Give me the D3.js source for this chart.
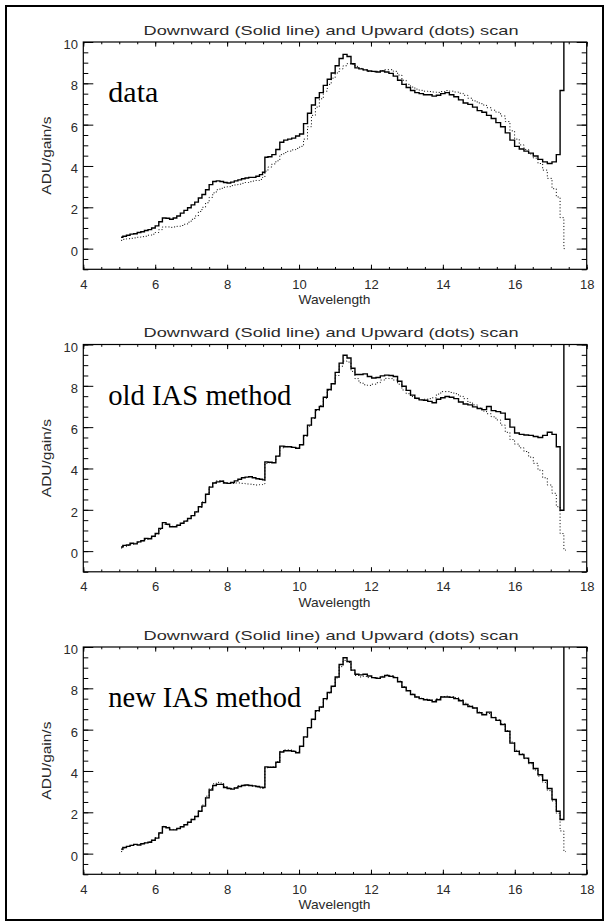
<!DOCTYPE html>
<html><head><meta charset="utf-8">
<script src="https://cdn.jsdelivr.net/npm/d3@7"></script>
<style>body{margin:0;background:#fff}</style>
</head><body><svg id="c" width="608" height="924"></svg>
<script>
const titleText = "Downward (Solid line) and Upward (dots) scan";
const xLabel = "Wavelength";
const yLabel = "ADU/gain/s";
const panelLabels = ["data", "old IAS method", "new IAS method"];
const xTicks = [4, 6, 8, 10, 12, 14, 16, 18];
const yTicks = [0, 2, 4, 6, 8, 10];

const wavelength = [
5.05,5.15,5.25,5.35,5.45,5.55,5.65,5.75,5.85,5.95,
6.05,6.15,6.25,6.35,6.45,6.55,6.65,6.75,6.85,6.95,
7.05,7.15,7.25,7.35,7.45,7.55,7.65,7.75,7.85,7.95,
8.05,8.15,8.25,8.35,8.45,8.55,8.65,8.75,8.85,8.95,
9.02,
9.08,9.19,9.30,9.41,9.52,9.63,9.74,9.85,9.96,10.07,
10.18,10.29,10.40,10.51,10.62,10.73,10.84,10.95,11.06,11.17,
11.28,11.39,11.50,11.61,11.72,11.84,11.96,12.08,12.20,12.32,
12.44,12.56,12.68,12.80,12.92,13.04,13.16,13.28,13.40,13.52,
13.64,13.76,13.88,14.00,14.12,14.24,14.37,14.50,14.63,14.76,
14.89,15.02,15.15,15.28,15.41,15.54,15.67,15.80,15.93,16.06,
16.19,16.32,16.45,16.58,16.71,16.84,16.97,17.10,17.21,17.31,
17.42];

const dataDown = [
0.55,0.60,0.65,0.70,0.72,0.78,0.82,0.88,0.92,1.00,
1.10,1.30,1.48,1.47,1.42,1.48,1.58,1.72,1.85,1.98,
2.12,2.25,2.45,2.62,2.85,3.10,3.25,3.28,3.25,3.20,
3.18,3.22,3.28,3.33,3.38,3.42,3.45,3.45,3.50,3.58,
3.70,
4.42,4.45,4.55,4.80,5.15,5.25,5.30,5.35,5.45,5.55,
6.05,6.55,6.95,7.30,7.55,7.90,8.20,8.50,8.85,9.20,
9.40,9.30,8.95,8.75,8.70,8.65,8.60,8.58,8.55,8.60,
8.55,8.48,8.35,8.15,7.95,7.80,7.65,7.55,7.50,7.45,
7.45,7.38,7.42,7.50,7.55,7.45,7.35,7.20,7.05,6.98,
6.85,6.68,6.60,6.45,6.30,6.10,5.90,5.60,5.25,4.95,
4.82,4.72,4.62,4.48,4.32,4.20,4.12,4.20,4.55,7.65,
12];

const dataUp = [
0.40,0.45,0.48,0.50,0.52,0.55,0.58,0.60,0.65,0.70,
0.78,0.92,1.05,1.05,1.03,1.05,1.08,1.12,1.18,1.28,
1.42,1.58,1.80,2.00,2.22,2.48,2.70,2.85,2.92,2.97,
3.00,3.05,3.08,3.12,3.16,3.20,3.24,3.27,3.30,3.35,
3.45,
3.75,3.95,4.10,4.25,4.55,4.65,4.72,4.78,4.85,4.95,
5.30,5.90,6.45,6.85,7.25,7.62,7.95,8.25,8.50,8.70,
8.85,8.95,8.92,8.82,8.72,8.65,8.58,8.56,8.58,8.62,
8.66,8.66,8.58,8.40,8.15,7.95,7.82,7.72,7.66,7.62,
7.60,7.58,7.56,7.60,7.65,7.62,7.58,7.52,7.42,7.28,
7.15,7.05,6.95,6.82,6.70,6.60,6.42,6.15,5.70,5.30,
5.02,4.80,4.58,4.38,4.12,3.80,3.40,2.90,2.50,1.50,
0.00];

const oldDown = [
0.20,0.28,0.30,0.38,0.35,0.45,0.50,0.62,0.60,0.72,
0.85,1.10,1.38,1.30,1.18,1.18,1.25,1.35,1.45,1.58,
1.72,1.90,2.15,2.35,2.75,3.10,3.30,3.35,3.38,3.30,
3.28,3.32,3.40,3.48,3.55,3.58,3.60,3.55,3.50,3.48,
3.45,
4.32,4.30,4.28,4.60,5.08,5.05,5.05,5.02,4.98,5.15,
5.60,6.10,6.45,6.85,7.00,7.45,7.82,8.10,8.65,9.10,
9.48,9.35,8.85,8.55,8.55,8.58,8.45,8.38,8.40,8.48,
8.52,8.50,8.45,8.22,7.98,7.78,7.55,7.40,7.32,7.30,
7.25,7.18,7.35,7.42,7.48,7.45,7.38,7.22,7.12,7.08,
6.98,6.90,6.85,7.00,6.80,6.75,6.68,6.38,6.00,5.72,
5.65,5.62,5.60,5.55,5.50,5.60,5.75,5.65,5.05,1.98,
12];

const oldUp = [
0.15,0.22,0.28,0.33,0.38,0.43,0.50,0.56,0.62,0.70,
0.82,1.05,1.30,1.28,1.20,1.20,1.26,1.35,1.46,1.58,
1.72,1.90,2.12,2.38,2.75,3.12,3.32,3.40,3.40,3.32,
3.28,3.28,3.30,3.30,3.28,3.25,3.24,3.22,3.20,3.22,
3.25,
4.25,4.28,4.30,4.60,5.00,5.08,5.05,5.02,5.00,5.15,
5.55,6.05,6.42,6.80,7.05,7.40,7.78,8.10,8.50,8.95,
9.20,9.15,8.70,8.35,8.15,8.05,8.02,8.08,8.15,8.28,
8.36,8.35,8.28,8.08,7.80,7.62,7.48,7.38,7.32,7.35,
7.38,7.42,7.60,7.72,7.72,7.68,7.62,7.50,7.38,7.20,
7.08,6.92,6.78,6.65,6.50,6.35,6.10,5.75,5.40,5.18,
5.00,4.82,4.55,4.25,3.92,3.55,3.20,2.80,2.15,0.85,
0.05];

const newDown = [
0.22,0.30,0.35,0.40,0.45,0.42,0.48,0.52,0.55,0.65,
0.75,1.00,1.30,1.25,1.15,1.15,1.22,1.30,1.40,1.52,
1.65,1.80,2.05,2.30,2.70,3.08,3.30,3.35,3.35,3.20,
3.15,3.12,3.18,3.25,3.30,3.32,3.30,3.28,3.25,3.22,
3.20,
4.20,4.18,4.18,4.42,4.92,4.98,4.98,4.95,4.88,5.20,
5.65,6.10,6.50,6.92,7.10,7.50,7.80,8.10,8.55,9.15,
9.48,9.30,8.88,8.68,8.65,8.68,8.60,8.52,8.48,8.55,
8.62,8.58,8.52,8.32,8.05,7.88,7.70,7.58,7.50,7.45,
7.42,7.35,7.45,7.58,7.58,7.56,7.50,7.40,7.22,7.12,
7.05,6.82,6.72,6.85,6.58,6.45,6.25,5.92,5.35,4.95,
4.80,4.62,4.40,4.12,3.82,3.55,3.15,2.62,2.05,1.65,
12];

const newUp = [
0.10,0.28,0.35,0.40,0.44,0.45,0.48,0.52,0.58,0.65,
0.78,1.02,1.32,1.28,1.18,1.16,1.22,1.30,1.40,1.52,
1.66,1.82,2.08,2.35,2.78,3.15,3.38,3.45,3.42,3.25,
3.18,3.15,3.20,3.28,3.32,3.32,3.30,3.26,3.22,3.18,
3.15,
4.15,4.18,4.20,4.45,4.95,5.02,5.02,4.98,4.92,5.18,
5.62,6.08,6.48,6.88,7.08,7.45,7.78,8.08,8.50,9.05,
9.35,9.25,8.88,8.62,8.55,8.58,8.52,8.50,8.50,8.58,
8.65,8.62,8.55,8.35,8.08,7.90,7.72,7.58,7.52,7.48,
7.45,7.42,7.50,7.60,7.62,7.60,7.55,7.45,7.28,7.15,
7.05,6.85,6.75,6.78,6.60,6.48,6.28,5.95,5.40,5.00,
4.82,4.60,4.35,4.05,3.75,3.45,3.05,2.55,1.95,1.10,
0.10];

const panels = [
  {label: panelLabels[0], down: dataDown, up: dataUp, labelWidth: 50},
  {label: panelLabels[1], down: oldDown, up: oldUp, labelWidth: 183},
  {label: panelLabels[2], down: newDown, up: newUp, labelWidth: 193}
];

const svg = d3.select("#c");
const SANS = "'Liberation Sans', Arial, Helvetica, sans-serif";
const SERIF = "'Liberation Serif', 'Times New Roman', serif";
const TEXT_COLOR = "#2a2a2a";

svg.append("rect").attr("x", 6).attr("y", 6).attr("width", 597).attr("height", 914)
  .attr("fill", "none").attr("stroke", "#000").attr("stroke-width", 2);

const x = d3.scaleLinear().domain([4, 18]).range([83.3, 586.7]);
const xMinor = d3.range(4, 18.001, 0.5);
const yMinor = d3.range(-1, 10.001, 0.5);
const PANEL_STEP = 302.5;

panels.forEach((p, i) => {
  const off = i * PANEL_STEP;
  const top = 42 + off, bottom = 269.3 + off;
  const y = d3.scaleLinear().domain([-1, 10]).range([bottom, top]);
  const g = svg.append("g");

  const clipId = "clip" + i;
  g.append("clipPath").attr("id", clipId).append("rect")
    .attr("x", x(4)).attr("y", top).attr("width", x(18) - x(4)).attr("height", bottom - top);

  function styleAxis(sel) {
    sel.select(".domain").remove();
    sel.selectAll("line").attr("stroke", "#000").attr("stroke-width", 1);
    sel.attr("font-family", SANS).attr("font-size", 13);
    sel.selectAll("text").attr("fill", TEXT_COLOR);
  }

  // bottom
  g.append("g").attr("transform", `translate(0,${bottom})`)
    .call(d3.axisBottom(x).tickValues(xMinor).tickSize(-2.3).tickFormat("")).call(styleAxis);
  g.append("g").attr("transform", `translate(0,${bottom})`)
    .call(d3.axisBottom(x).tickValues(xTicks).tickSize(-4.6).tickPadding(10).tickFormat(d3.format("d"))).call(styleAxis);
  // top
  g.append("g").attr("transform", `translate(0,${top})`)
    .call(d3.axisTop(x).tickValues(xMinor).tickSize(-2.3).tickFormat("")).call(styleAxis);
  g.append("g").attr("transform", `translate(0,${top})`)
    .call(d3.axisTop(x).tickValues(xTicks).tickSize(-4.6).tickFormat("")).call(styleAxis);
  // left
  g.append("g").attr("transform", `translate(${x(4)},0)`)
    .call(d3.axisLeft(y).tickValues(yMinor).tickSize(-5).tickFormat("")).call(styleAxis);
  const la = g.append("g").attr("transform", `translate(${x(4)},0)`)
    .call(d3.axisLeft(y).tickValues(yTicks).tickSize(-10).tickPadding(5.3).tickFormat(d3.format("d"))).call(styleAxis);
  la.selectAll("text").attr("dy", "0.5em");
  // right
  g.append("g").attr("transform", `translate(${x(18)},0)`)
    .call(d3.axisRight(y).tickValues(yMinor).tickSize(-5).tickFormat("")).call(styleAxis);
  g.append("g").attr("transform", `translate(${x(18)},0)`)
    .call(d3.axisRight(y).tickValues(yTicks).tickSize(-10).tickFormat("")).call(styleAxis);

  // frame
  g.append("rect").attr("x", x(4)).attr("y", top).attr("width", x(18) - x(4)).attr("height", bottom - top)
    .attr("fill", "none").attr("stroke", "#000").attr("stroke-width", 1.2);

  const line = d3.line().x(d => x(d[0])).y(d => y(d[1])).curve(d3.curveStep);
  const upPts = wavelength.map((w, k) => [w, p.up[k]]);
  const downPts = wavelength.map((w, k) => [w, p.down[k]]);
  const plot = g.append("g").attr("clip-path", `url(#${clipId})`);
  plot.append("path").attr("d", line(upPts)).attr("fill", "none")
    .attr("stroke", "#111").attr("stroke-width", 1).attr("stroke-dasharray", "1.1,2.1");
  plot.append("path").attr("d", line(downPts)).attr("fill", "none")
    .attr("stroke", "#000").attr("stroke-width", 1.4);

  // title
  g.append("text").attr("x", 331).attr("y", 34.5 + off).attr("text-anchor", "middle")
    .attr("font-family", SANS).attr("font-size", 13.5).attr("fill", TEXT_COLOR)
    .attr("textLength", 375).attr("lengthAdjust", "spacingAndGlyphs").text(titleText);
  // x label
  g.append("text").attr("x", 334.5).attr("y", 304 + off).attr("text-anchor", "middle")
    .attr("font-family", SANS).attr("font-size", 13).attr("fill", TEXT_COLOR)
    .attr("textLength", 72).attr("lengthAdjust", "spacingAndGlyphs").text(xLabel);
  // y label
  g.append("text").attr("transform", `translate(50.5,${(top + bottom) / 2}) rotate(-90)`)
    .attr("text-anchor", "middle")
    .attr("font-family", SANS).attr("font-size", 13).attr("fill", TEXT_COLOR)
    .attr("textLength", 78).attr("lengthAdjust", "spacingAndGlyphs").text(yLabel);
  // panel label
  g.append("text").attr("x", 108.3).attr("y", 102.3 + off)
    .attr("font-family", SERIF).attr("font-size", 28.5).attr("fill", "#000")
    .attr("textLength", p.labelWidth).attr("lengthAdjust", "spacingAndGlyphs").text(p.label);
});
</script>
</body></html>
